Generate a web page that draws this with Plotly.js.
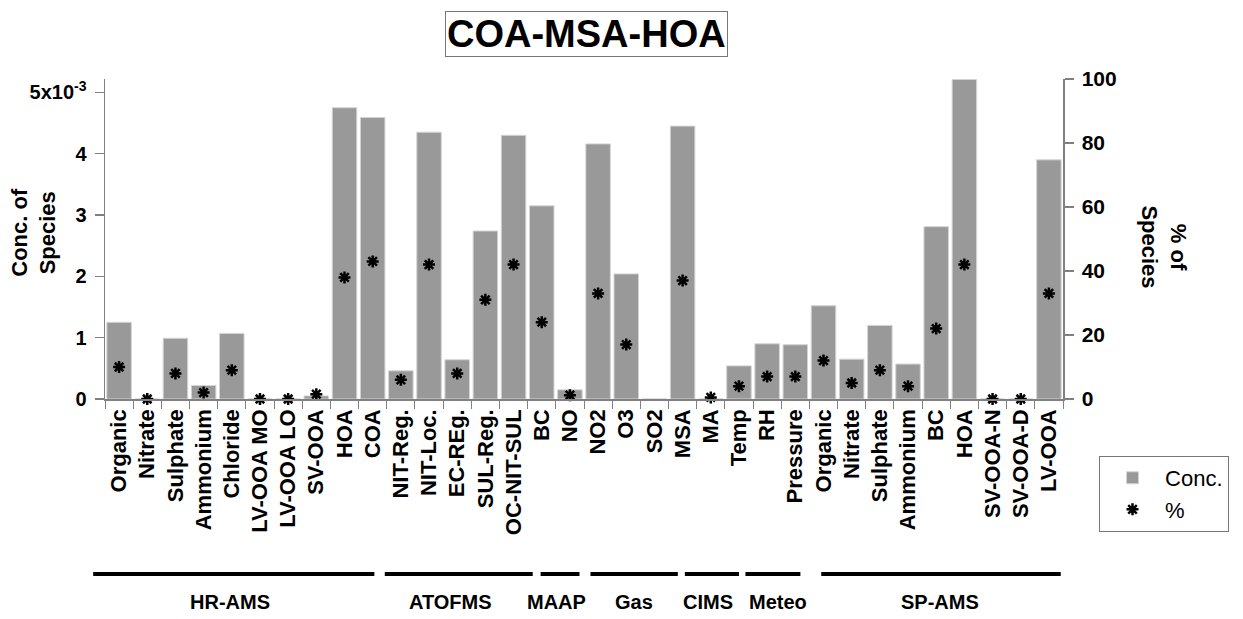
<!DOCTYPE html>
<html><head><meta charset="utf-8">
<script src="https://cdn.plot.ly/plotly-3.0.1.min.js"></script>
<style>html,body{margin:0;padding:0;background:#fff}</style>
</head><body>
<div id="chart" style="width:1243px;height:619px"></div>
<script>
// ---------------- data ----------------
const labels = ['Organic','Nitrate','Sulphate','Ammonium','Chloride','LV-OOA MO','LV-OOA LO','SV-OOA','HOA','COA',
  'NIT-Reg.','NIT-Loc.','EC-REg.','SUL-Reg.','OC-NIT-SUL',
  'BC',
  'NO','NO2','O3','SO2',
  'MSA','MA',
  'Temp','RH','Pressure',
  'Organic','Nitrate','Sulphate','Ammonium','BC','HOA','SV-OOA-N','SV-OOA-D','LV-OOA'];
// concentration in units of 1e-3
const concE3 = [1.25,0,0.99,0.22,1.07,0,0,0.05,4.75,4.59,
  0.46,4.35,0.64,2.74,4.30,
  3.15,
  0.15,4.16,2.04,0,
  4.45,0,
  0.54,0.90,0.885,
  1.52,0.65,1.20,0.57,2.81,5.21,0,0,3.90];
// percentage of species
const pct = [10,0,8,2,9,0,0,1.5,38,43,
  6,42,8,31,42,
  24,
  1.2,33,17,null,
  37,0.5,
  4,7,7,
  12,5,9,4,22,42,0,0,33];
const groupNames = ['HR-AMS','ATOFMS','MAAP','Gas','CIMS','Meteo','SP-AMS'];
const yTickVals = [0,1,2,3,4,5];
const yTickText = ['0','1','2','3','4','5x10<sup>-3</sup>'];
const y2TickVals = [0,20,40,60,80,100];
const titleText = 'COA-MSA-HOA';

// unique category keys (duplicate names get invisible suffix)
const seen = {};
const cats = labels.map(l => { const n = seen[l] || 0; seen[l] = n + 1; return l + '\u200b'.repeat(n); });

// ---------------- layout helpers ----------------
const FONT = 'Liberation Sans, Arial, Helvetica, sans-serif';
const nCat = labels.length;
const toPaper = u => (u + 0.5) / nCat;
// group bracket extents (axis category units) and label centres, as drawn in the figure
const groupLineSpans = [[-0.92,9.06],[9.43,14.68],[14.96,16.34],[16.73,19.83],[20.08,22.0],[22.23,24.18],[24.92,33.42]];
const groupLabelPos = [3.93,11.75,15.52,18.26,20.91,23.37,29.14];

const shapes = groupLineSpans.map(s => ({
  type:'line', xref:'paper', yref:'paper', x0:toPaper(s[0]), x1:toPaper(s[1]), y0:-0.547, y1:-0.547,
  line:{color:'#000', width:4}
}));
const annotations = groupNames.map((g,i) => ({
  text:'<b>'+g+'</b>', xref:'paper', yref:'paper', x:toPaper(groupLabelPos[i]), y:-0.634,
  showarrow:false, xanchor:'center', yanchor:'middle', font:{family:FONT, size:20, color:'#000'}
}));
annotations.push({
  text:'<b>'+titleText+'</b>', xref:'paper', yref:'paper', x:0.503, y:1.142, showarrow:false,
  xanchor:'center', yanchor:'middle', font:{family:FONT, size:38, color:'#000'},
  bordercolor:'#777', borderwidth:1, borderpad:1, bgcolor:'#fff'
});
annotations.push({
  text:'<b>Conc. of<br>Species</b>', xref:'paper', yref:'paper', x:-0.075, y:0.52, showarrow:false,
  textangle:-90, xanchor:'center', yanchor:'middle', font:{family:FONT, size:22, color:'#000'}
});
annotations.push({
  text:'<b>% of<br>Species</b>', xref:'paper', yref:'paper', x:1.105, y:0.475, showarrow:false,
  textangle:90, xanchor:'center', yanchor:'middle', font:{family:FONT, size:22, color:'#000'}
});

const traces = [
  {type:'bar', name:'Conc.', x:cats, y:concE3, yaxis:'y',
   marker:{color:'#999999', line:{color:'#d4d4d4', width:1}}},
  {type:'scatter', mode:'markers', name:'%', x:cats, y:pct, yaxis:'y2', cliponaxis:false,
   marker:{symbol:'asterisk-open', size:10, color:'#000', line:{color:'#000', width:2.5}}}
];

const layout = {
  width:1243, height:619,
  margin:{l:105, r:180, t:79, b:220},
  paper_bgcolor:'#fff', plot_bgcolor:'#fff',
  font:{family:FONT, color:'#000'},
  bargap:0.13,
  showlegend:true,
  legend:{x:1.0376, y:-0.178, xanchor:'left', yanchor:'top', bordercolor:'#777', borderwidth:1,
          bgcolor:'#fff', font:{family:FONT, size:22, color:'#000'}, tracegroupgap:0,
          itemwidth:55},
  xaxis:{type:'category', range:[-0.5, nCat-0.5], tickmode:'linear', dtick:1, tick0:0,
         tickson:'boundaries', ticks:'outside', ticklen:8, tickcolor:'#808080', tickwidth:1,
         tickangle:-90, tickfont:{family:FONT, size:22, weight:'bold', color:'#000'},
         showline:true, linecolor:'#808080', linewidth:1.5, showgrid:false, zeroline:false,
         fixedrange:true},
  yaxis:{range:[0, 5.218], tickmode:'array', tickvals:yTickVals, ticktext:yTickText,
         ticks:'outside', ticklen:9, tickcolor:'#808080', tickwidth:1.5, ticklabelstandoff:4,
         tickfont:{family:FONT, size:20, weight:'bold', color:'#000'},
         showline:true, linecolor:'#808080', linewidth:1.5, showgrid:false, zeroline:false},
  yaxis2:{range:[0,100], overlaying:'y', side:'right', tickmode:'array', tickvals:y2TickVals,
          ticks:'outside', ticklen:9, tickcolor:'#808080', tickwidth:1.5, ticklabelstandoff:4,
          tickfont:{family:FONT, size:21, weight:'bold', color:'#000'},
          showline:true, linecolor:'#808080', linewidth:1.5, showgrid:false, zeroline:false},
  shapes:shapes,
  annotations:annotations
};

Plotly.newPlot('chart', traces, layout, {displayModeBar:false, staticPlot:true});
</script>
</body></html>
